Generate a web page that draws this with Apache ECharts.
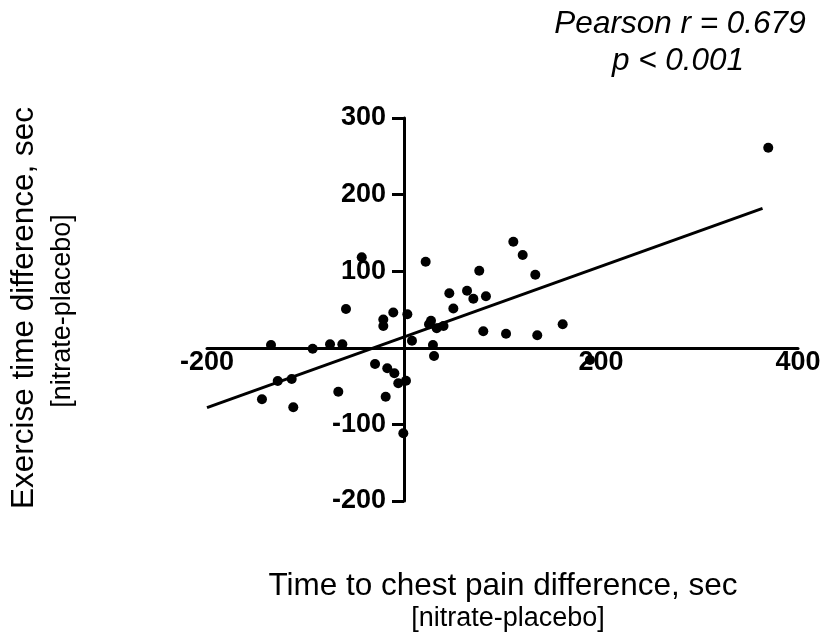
<!DOCTYPE html>
<html>
<head>
<meta charset="utf-8">
<script src="https://cdn.jsdelivr.net/npm/echarts@6/dist/echarts.min.js"></script>
<style>
html,body{margin:0;padding:0;background:#fff;}
#chart{width:827px;height:643px;}
</style>
</head>
<body>
<div id="chart"></div>
<script>
// Data
var chestPainDiff = [-42.9, 22.0, -58.9, -10.9, 3.4, -21.0, -21.0, 46.0, 64.0, 50.1, 27.4, 25.4, 33.2, 40.1,
  -135.0, -92.7, -75.1, -62.6, 8.1, 29.4, 30.5, -29.4, -17.0, -9.8, -5.8, 2.0, -128.2, -114.0, -66.7, -18.6,
  -144.2, -112.4, -0.7, 369.8, 111.0, 120.5, 76.4, 133.3, 70.4, 83.2, 80.5, 103.6, 135.3, 161.1, 188.8];
var exerciseDiff = [118.1, 112.4, 50.7, 46.1, 43.7, 36.9, 28.5, 71.1, 74.5, 51.3, 35.4, 30.7, 25.5, 28.5,
  3.7, -1.3, 4.7, 4.7, 9.3, 3.7, -10.7, -21.1, -26.8, -33.3, -46.3, -42.9, -43.3, -40.7, -57.3, -63.8,
  -67.2, -77.7, -111.6, 261.2, 138.5, 121.1, 100.7, 95.4, 64.1, 67.2, 21.5, 18.4, 16.3, 30.7, -15.9];
var fitLineX = [-200, 364];
var fitLineY = [-78.2, 182.1];
var xTicks = [-200, 0, 200, 400];
var yTicks = [-200, -100, 0, 100, 200, 300];
var statText = ['Pearson r = 0.679', 'p < 0.001'];
var xTitle = ['Time to chest pain difference, sec', '[nitrate-placebo]'];
var yTitle = ['Exercise time difference, sec', '[nitrate-placebo]'];

var FONT = '"Liberation Sans", Arial, sans-serif';
var points = chestPainDiff.map(function (x, i) { return [x, exerciseDiff[i]]; });
var fit = fitLineX.map(function (x, i) { return [x, fitLineY[i]]; });

var GRID = {left: 207, right: 29, top: 118, bottom: 142};
var W = 827, H = 643;

var chart = echarts.init(document.getElementById('chart'), null, {renderer: 'canvas', width: W, height: H});
chart.setOption({
  backgroundColor: '#ffffff',
  animation: false,
  grid: {left: GRID.left, right: GRID.right, top: GRID.top, bottom: GRID.bottom, containLabel: false, outerBoundsMode: 'none'},
  xAxis: {
    type: 'value', position: 'bottom',
    min: xTicks[0], max: xTicks[xTicks.length - 1], interval: 200,
    axisLine: {show: true, onZero: false, lineStyle: {color: '#000', width: 3}},
    axisTick: {show: false},
    splitLine: {show: false},
    axisLabel: {
      margin: 1, color: '#000', fontFamily: FONT, fontWeight: 'bold', fontSize: 27,
      formatter: function (v) { return v === 0 ? '' : String(v); }
    }
  },
  yAxis: {
    type: 'value', position: 'left',
    min: yTicks[0], max: yTicks[yTicks.length - 1], interval: 100,
    axisLine: {show: true, onZero: false, lineStyle: {color: '#000', width: 3}},
    axisTick: {show: true, length: 12, lineStyle: {color: '#000', width: 3}},
    splitLine: {show: false},
    axisLabel: {
      margin: 18, color: '#000', fontFamily: FONT, fontWeight: 'bold', fontSize: 27,
      formatter: function (v) { return v === 0 ? '' : String(v); }
    }
  },
  series: [
    {
      type: 'line', data: fit, symbol: 'none', silent: true,
      lineStyle: {color: '#000', width: 3}, z: 3
    },
    {
      type: 'scatter', data: points, symbol: 'circle', symbolSize: 10,
      itemStyle: {color: '#000', opacity: 1}, z: 4
    }
  ],
  graphic: [
    {type: 'text', x: 680, y: 24, style: {text: statText[0], font: 'italic 31.5px ' + FONT, fill: '#000', textAlign: 'center', textVerticalAlign: 'middle'}},
    {type: 'text', x: 678, y: 61, style: {text: statText[1], font: 'italic 31.5px ' + FONT, fill: '#000', textAlign: 'center', textVerticalAlign: 'middle'}},
    {type: 'text', x: 503, y: 586, style: {text: xTitle[0], font: '31.5px ' + FONT, fill: '#000', textAlign: 'center', textVerticalAlign: 'middle'}},
    {type: 'text', x: 508, y: 619, style: {text: xTitle[1], font: '27px ' + FONT, fill: '#000', textAlign: 'center', textVerticalAlign: 'middle'}},
    {type: 'text', x: 24, y: 308, rotation: Math.PI / 2, style: {text: yTitle[0], font: '31.5px ' + FONT, fill: '#000', textAlign: 'center', textVerticalAlign: 'middle'}},
    {type: 'text', x: 63, y: 311, rotation: Math.PI / 2, style: {text: yTitle[1], font: '27px ' + FONT, fill: '#000', textAlign: 'center', textVerticalAlign: 'middle'}}
  ]
});

// Move both axes so they cross at the data origin (0, 0), using the library's own scale.
var origin = chart.convertToPixel({gridIndex: 0}, [0, 0]);
var gridBottomPx = H - GRID.bottom;
chart.setOption({
  xAxis: {offset: -(gridBottomPx - origin[1])},
  yAxis: {offset: -(origin[0] - GRID.left)}
});
</script>
</body>
</html>
